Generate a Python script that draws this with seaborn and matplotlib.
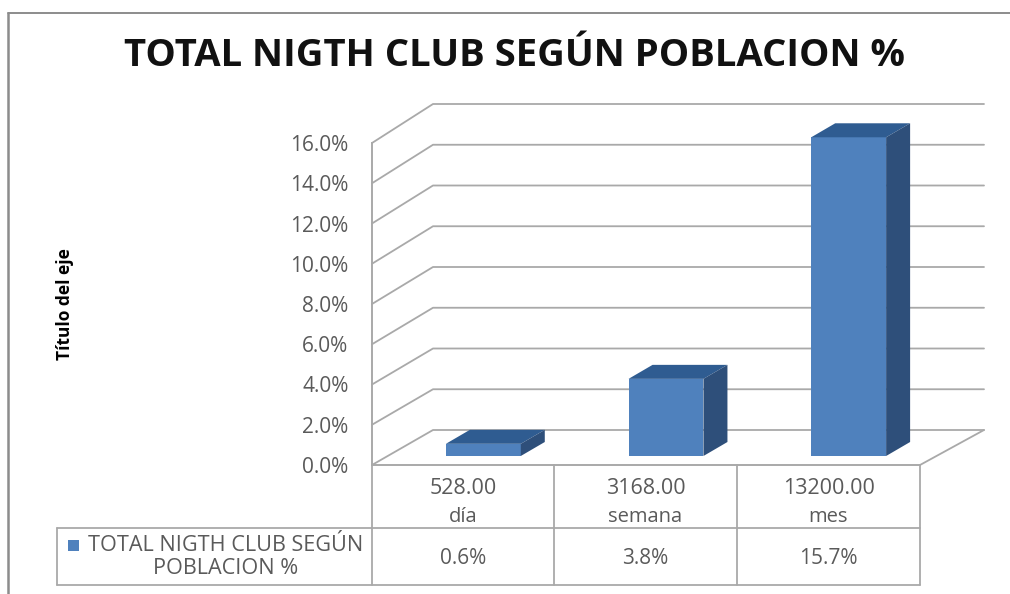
import matplotlib
matplotlib.use('Agg')
import matplotlib.pyplot as plt
import seaborn as sns
import pandas as pd
from matplotlib.patches import Polygon

# --- data ---
periodos = ['día', 'semana', 'mes']
poblacion = ['528.00', '3168.00', '13200.00']
valores = [0.6, 3.8, 15.7]
valores_txt = ['0.6%', '3.8%', '15.7%']
y_ticks = [0, 2, 4, 6, 8, 10, 12, 14, 16]
titulo = 'TOTAL NIGTH CLUB SEGÚN POBLACION %'
serie = 'TOTAL NIGTH CLUB SEGÚN\nPOBLACION %'
eje_y = 'Título del eje'

W, H = 1010, 594
FRONT_L, FRONT_R = 372, 920
Y_ZERO, Y_TOP = 465, 143
BACK_L, BACK_R = 433, 984
BACK_ZERO, BACK_TOP = 430, 104
BAR_DX, BAR_DY = 20, 9   # bars sit a little inside the floor
BAR_SIDE_X, BAR_SIDE_Y = 24, 14
PX_PER_UNIT = 20.3

COL_FRONT = '#4f81bd'
COL_TOP = '#2f5c91'
COL_SIDE = '#2e4f7a'
COL_GRID = '#a9a9a9'
COL_TEXT = '#5a5a5a'

sns.set_theme(style='white')
plt.rcParams['font.family'] = ['Open Sans', 'DejaVu Sans']

fig = plt.figure(figsize=(W / 100, H / 100), dpi=100, facecolor='white')


def axes_px(left, top, right, bottom, **kw):
    return fig.add_axes([left / W, 1 - bottom / H, (right - left) / W, (bottom - top) / H], **kw)


# overlay in pixel units for walls, table and frame
bg = axes_px(0, 0, W, H, zorder=0)
bg.set_xlim(0, W)
bg.set_ylim(H, 0)
bg.axis('off')

# picture frame
bg.plot([8, 8], [13, H], color='#8c8c8c', lw=1.8)
bg.plot([8, W], [13, 13], color='#8c8c8c', lw=1.4)

# wall axis, only for the percent scale
wall = axes_px(FRONT_L, Y_TOP, FRONT_R, Y_ZERO, zorder=1)
wall.patch.set_alpha(0)
wall.set_xlim(0, 1)
wall.set_ylim(0, y_ticks[-1])
wall.set_xticks([])
wall.set_yticks(y_ticks)
wall.set_yticklabels([f'{t:.1f}%' for t in y_ticks], fontsize=15, color=COL_TEXT)
wall.tick_params(axis='y', length=0, pad=17)
for s in ['top', 'right', 'bottom']:
    wall.spines[s].set_visible(False)
wall.spines['left'].set_color(COL_GRID)
wall.spines['left'].set_linewidth(1.4)
wall.set_ylabel(eje_y, fontsize=12.5, fontweight='bold', color='black', labelpad=0)
wall.yaxis.set_label_coords((74 - FRONT_L) / (FRONT_R - FRONT_L), 0.50)

# gridlines folded along the side wall and back wall
for t in y_ticks:
    frac = t / y_ticks[-1]
    y = Y_ZERO - (Y_ZERO - Y_TOP) * frac
    yb = BACK_ZERO - (BACK_ZERO - BACK_TOP) * frac
    bg.plot([FRONT_L, BACK_L, BACK_R], [y, yb, yb], color=COL_GRID, lw=1.3)

# floor
bg.plot([FRONT_L, FRONT_R], [Y_ZERO, Y_ZERO], color=COL_GRID, lw=1.4)
bg.plot([FRONT_R, BACK_R], [Y_ZERO, BACK_ZERO], color=COL_GRID, lw=1.3)

# bars
df = pd.DataFrame({'periodo': periodos, 'valor': valores})
ax = axes_px(FRONT_L + BAR_DX, Y_ZERO - BAR_DY - PX_PER_UNIT * y_ticks[-1], FRONT_R + BAR_DX, Y_ZERO - BAR_DY, zorder=2)
ax.patch.set_alpha(0)
sns.barplot(data=df, x='periodo', y='valor', color=COL_FRONT, saturation=1, width=0.41, linewidth=0, ax=ax)
ax.set_xlim(-0.5, 2.5)
ax.set_ylim(0, y_ticks[-1])
ax.axis('off')

# 3D faces offset in pixels from each bar seaborn drew
px_x = (FRONT_R - FRONT_L) / 3
for bar in list(ax.patches):
    x0 = bar.get_x()
    x1 = x0 + bar.get_width()
    h = bar.get_height()
    sx = BAR_SIDE_X / px_x
    sy = BAR_SIDE_Y / PX_PER_UNIT
    ax.add_patch(Polygon([(x0, h), (x1, h), (x1 + sx, h + sy), (x0 + sx, h + sy)],
                         closed=True, fc=COL_TOP, ec='none', clip_on=False))
    ax.add_patch(Polygon([(x1, 0), (x1 + sx, sy), (x1 + sx, h + sy), (x1, h)],
                         closed=True, fc=COL_SIDE, ec='none', clip_on=False))

# data table
TAB_L = 57
TAB_COLS = [FRONT_L, 554, 737, FRONT_R]
TAB_MID, TAB_BOT = 528, 585
for x in TAB_COLS:
    bg.plot([x, x], [Y_ZERO, TAB_BOT], color=COL_GRID, lw=1.3)
bg.plot([TAB_L, TAB_L], [TAB_MID, TAB_BOT], color=COL_GRID, lw=1.3)
bg.plot([TAB_L, FRONT_R], [TAB_MID, TAB_MID], color=COL_GRID, lw=1.3)
bg.plot([TAB_L, FRONT_R], [TAB_BOT, TAB_BOT], color=COL_GRID, lw=1.3)
for i in range(3):
    cx = (TAB_COLS[i] + TAB_COLS[i + 1]) / 2
    bg.text(cx, 488, poblacion[i], ha='center', va='center', fontsize=15.5, color=COL_TEXT)
    bg.text(cx, 517, periodos[i], ha='center', va='center', fontsize=14.5, color=COL_TEXT)
    bg.text(cx, 558, valores_txt[i], ha='center', va='center', fontsize=15, color=COL_TEXT)

# legend key inside the table
bg.add_patch(plt.Rectangle((68, 540), 11, 11, fc=COL_FRONT, ec='none'))
bg.text(226, 557, serie, ha='center', va='center', fontsize=15.6, color=COL_TEXT, linespacing=1.08)

fig.suptitle(titulo, x=514 / W, y=1 - 56 / H, va='center', fontsize=27.5, fontweight='bold', color='#111111')

fig.savefig('out.png', dpi=100)
